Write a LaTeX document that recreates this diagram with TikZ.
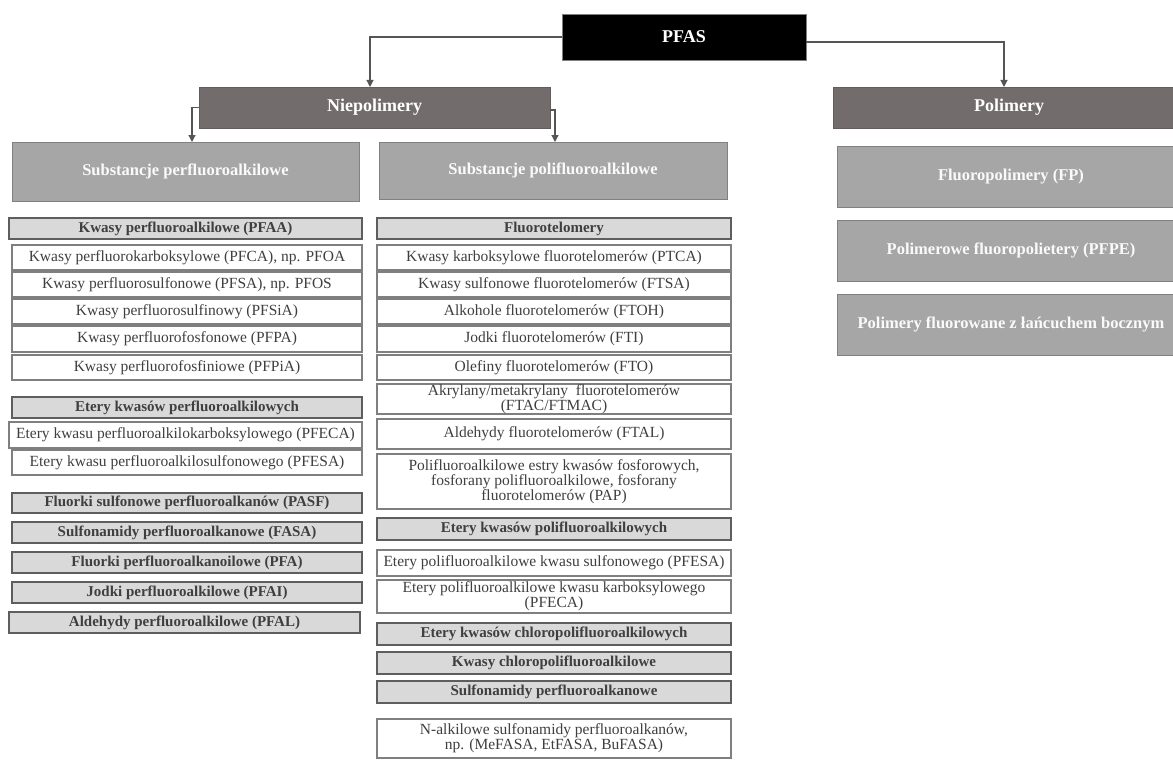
\documentclass[tikz,border=0pt]{standalone}
\usepackage{fontspec}
\setmainfont{Liberation Serif}
\usetikzlibrary{arrows.meta}

\definecolor{lvlone}{HTML}{736C6C}
\definecolor{grpfill}{HTML}{A6A6A6}
\definecolor{grpedge}{HTML}{808080}
\definecolor{hdrfill}{HTML}{D9D9D9}
\definecolor{hdredge}{HTML}{5E5E5E}
\definecolor{itemedge}{HTML}{7F7F7F}
\definecolor{txtdark}{HTML}{3F3F3F}
\definecolor{linkcol}{HTML}{555555}

% box from top-left (x1,y1) to bottom-right (x2,y2)
\newcommand\drawbox[7]{%
  \pgfmathsetmacro\bxw{#5-#3}%
  \pgfmathsetmacro\bxh{#6-#4}%
  \node[#2, minimum width=\bxw pt, minimum height=\bxh pt, anchor=north west] (#1) at (#3,#4) {#7};}

\begin{document}
\begin{tikzpicture}[x=1pt, y=-1pt,
  every node/.style={inner sep=0pt, outer sep=0pt, align=center},
  pfasbox/.style={fill=black, draw=gray, line width=0.8pt, text=white,
    font=\fontsize{18}{20}\selectfont\bfseries},
  lvlbox/.style={fill=lvlone, draw=lvlone!85!black, line width=0.8pt, text=white,
    font=\fontsize{18}{20}\selectfont\bfseries},
  grpbox/.style={fill=grpfill, draw=grpedge, line width=1pt, text=white!96!gray,
    font=\fontsize{16.5}{18}\selectfont\bfseries},
  hdrbox/.style={fill=hdrfill, draw=hdredge, line width=1.4pt, text=txtdark,
    font=\fontsize{15}{16}\selectfont\bfseries},
  itembox/.style={fill=white, draw=itemedge, line width=1.2pt, text=txtdark,
    font=\fontsize{15.5}{14}\selectfont},
  tightbox/.style={itembox, font=\fontsize{15.5}{12}\selectfont},
  link/.style={draw=linkcol, line width=1.2pt, -{Triangle[width=7pt,length=7pt]}}]

\useasboundingbox (0,0) rectangle (1173,784);

% top levels
\drawbox{pfas}{pfasbox}{562}{14}{806}{60}{PFAS}
\drawbox{niep}{lvlbox}{199}{87}{550}{128}{Niepolimery}
\drawbox{polim}{lvlbox}{833}{87}{1185}{128}{Polimery}

% groups
\drawbox{perf}{grpbox}{12}{142}{359}{201}{Substancje perfluoroalkilowe}
\drawbox{poly}{grpbox}{379}{142}{727}{199}{Substancje polifluoroalkilowe}
\drawbox{fp}{grpbox}{837}{146}{1185}{207}{Fluoropolimery (FP)}
\drawbox{pfpe}{grpbox}{837}{220}{1185}{281}{Polimerowe fluoropolietery (PFPE)}
\drawbox{side}{grpbox}{837}{294}{1185}{355}{Polimery fluorowane z łańcuchem bocznym}

% perfluoroalkyl column
\drawbox{pfaa}{hdrbox}{9}{218}{362}{239}{Kwasy perfluoroalkilowe (PFAA)}
\drawbox{pfca}{itembox}{12}{245}{362}{270}{Kwasy perfluorokarboksylowe (PFCA), np. PFOA}
\drawbox{pfsa}{itembox}{12}{272}{362}{297}{Kwasy perfluorosulfonowe (PFSA), np. PFOS}
\drawbox{pfsia}{itembox}{12}{299}{362}{324}{Kwasy perfluorosulfinowy (PFSiA)}
\drawbox{pfpa}{itembox}{12}{326}{362}{352}{Kwasy perfluorofosfonowe (PFPA)}
\drawbox{pfpia}{itembox}{12}{355}{362}{380}{Kwasy perfluorofosfiniowe (PFPiA)}
\drawbox{eterperf}{hdrbox}{12}{397}{362}{418}{Etery kwasów perfluoroalkilowych}
\drawbox{pfeca}{itembox}{9}{422}{362}{448}{Etery kwasu perfluoroalkilokarboksylowego (PFECA)}
\drawbox{pfesa}{itembox}{12}{450}{362}{475}{Etery kwasu perfluoroalkilosulfonowego (PFESA)}
\drawbox{pasf}{hdrbox}{12}{493}{362}{513}{Fluorki sulfonowe perfluoroalkanów (PASF)}
\drawbox{fasa}{hdrbox}{12}{522}{362}{543}{Sulfonamidy perfluoroalkanowe (FASA)}
\drawbox{pfa}{hdrbox}{12}{552}{362}{573}{Fluorki perfluoroalkanoilowe (PFA)}
\drawbox{pfai}{hdrbox}{12}{582}{362}{603}{Jodki perfluoroalkilowe (PFAI)}
\drawbox{pfal}{hdrbox}{9}{612}{360}{633}{Aldehydy perfluoroalkilowe (PFAL)}

% polyfluoroalkyl column
\drawbox{ftel}{hdrbox}{377}{218}{731}{239}{Fluorotelomery}
\drawbox{ptca}{itembox}{377}{245}{731}{270}{Kwasy karboksylowe fluorotelomerów (PTCA)}
\drawbox{ftsa}{itembox}{377}{272}{731}{297}{Kwasy sulfonowe fluorotelomerów (FTSA)}
\drawbox{ftoh}{itembox}{377}{299}{731}{324}{Alkohole fluorotelomerów (FTOH)}
\drawbox{fti}{itembox}{377}{326}{731}{352}{Jodki fluorotelomerów (FTI)}
\drawbox{fto}{itembox}{377}{355}{731}{380}{Olefiny fluorotelomerów (FTO)}
\drawbox{ftac}{tightbox}{377}{384}{731}{414}{Akrylany/metakrylany\ \ fluorotelomerów\\(FTAC/FTMAC)}
\drawbox{ftal}{itembox}{377}{419}{731}{449}{Aldehydy fluorotelomerów (FTAL)}
\drawbox{pap}{itembox}{377}{454}{731}{509}{Polifluoroalkilowe estry kwasów fosforowych,\\fosforany polifluoroalkilowe, fosforany\\fluorotelomerów (PAP)}
\drawbox{eterpoly}{hdrbox}{377}{518}{731}{540}{Etery kwasów polifluoroalkilowych}
\drawbox{pfesab}{itembox}{377}{550}{731}{576}{Etery polifluoroalkilowe kwasu sulfonowego (PFESA)}
\drawbox{pfecab}{itembox}{377}{580}{731}{613}{Etery polifluoroalkilowe kwasu karboksylowego\\(PFECA)}
\drawbox{eterchl}{hdrbox}{377}{623}{731}{645}{Etery kwasów chloropolifluoroalkilowych}
\drawbox{kwchl}{hdrbox}{377}{652}{731}{674}{Kwasy chloropolifluoroalkilowe}
\drawbox{sulf}{hdrbox}{377}{681}{731}{703}{Sulfonamidy perfluoroalkanowe}
\drawbox{nalk}{itembox}{377}{719}{731}{758}{N-alkilowe sulfonamidy perfluoroalkanów,\\np. (MeFASA, EtFASA, BuFASA)}

% connectors
\draw[link] (pfas.west) -| ([xshift=-4.5pt]niep.north);
\draw[link] ([yshift=-5pt]pfas.east) -| ([xshift=-5pt]polim.north);
\draw[link] (niep.west) -| ([xshift=180pt]perf.north west);
\draw[link] ([yshift=-2.5pt]niep.east) -| ([xshift=176pt]poly.north west);

\end{tikzpicture}
\end{document}
